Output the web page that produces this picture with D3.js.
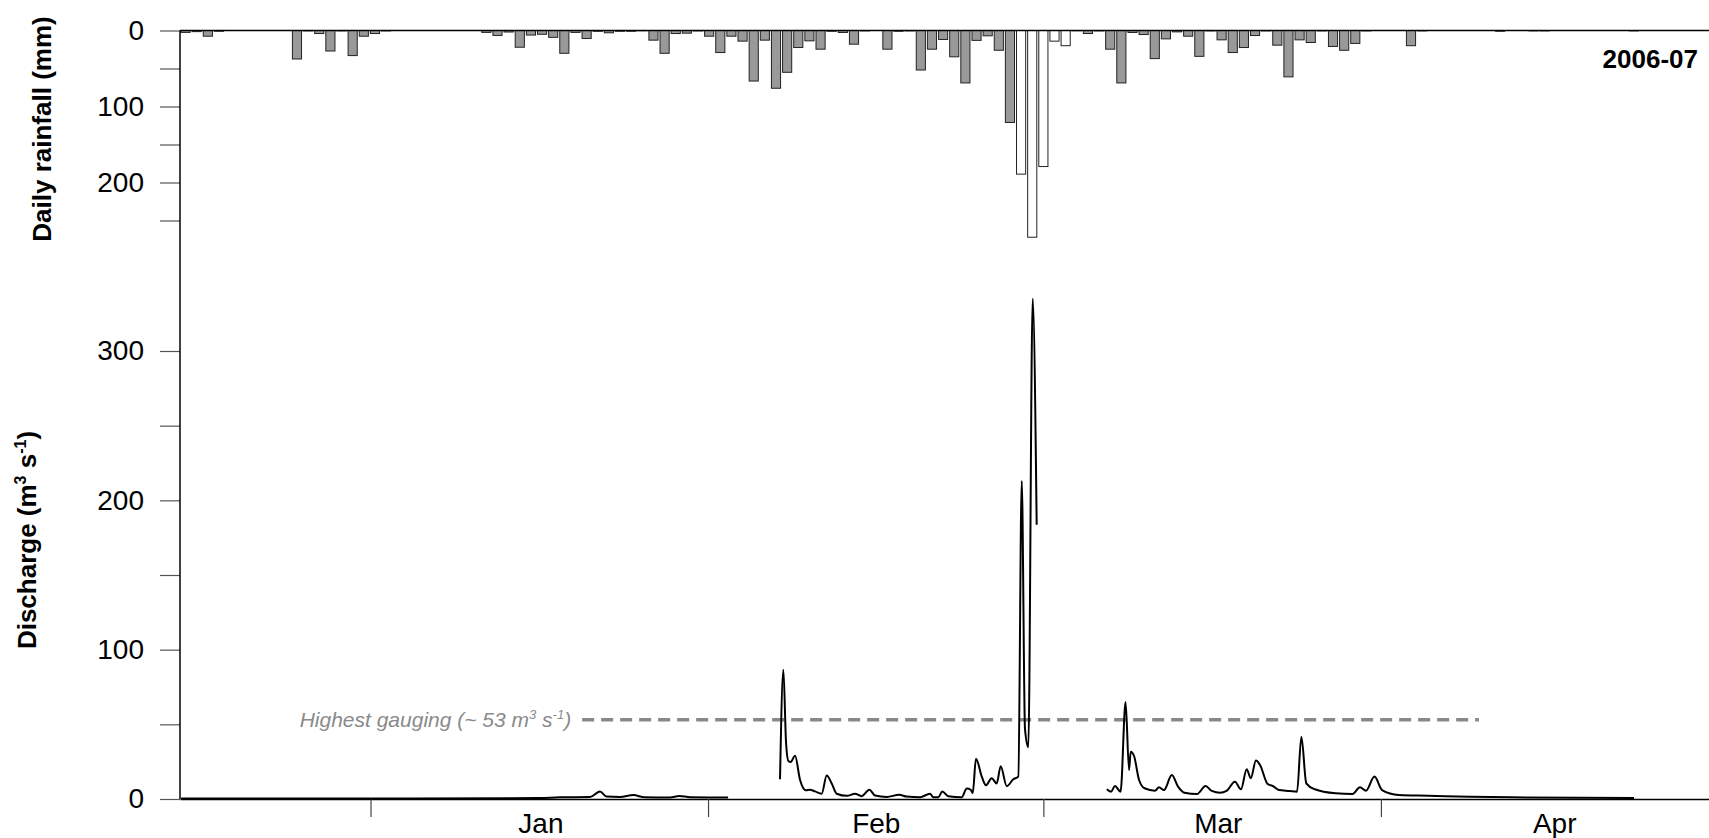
<!DOCTYPE html>
<html lang="en">
<head>
<meta charset="UTF-8">
<title>Rainfall and discharge 2006-07</title>
<script src="https://cdn.jsdelivr.net/npm/d3@7"></script>
<style>
  body { margin: 0; background: #fff; }
  svg { display: block; font-family: "Liberation Sans", Arial, sans-serif; }
</style>
</head>
<body>
<svg></svg>
<script>
// daily rainfall (mm), one value per day from the left edge of the plot
var rainfall = [
  2.5, 1.5, 7.5, 1, 0, 0, 0, 0, 0, 0,
  37.5, 0.5, 4, 27, 0.5, 33, 7.5, 4, 0.5, 0,
  0, 0, 0, 0, 0, 0, 0, 2.5, 6.5, 2,
  22, 6, 5, 9, 30, 2.5, 10.5, 1, 3, 1,
  1, 0.3, 12.7, 30, 4, 3.5, 0.5, 7.5, 29, 7.5,
  14, 66.5, 12.7, 76, 55, 22.4, 13.6, 24.6, 1, 2.6,
  18, 0.5, 0, 24.6, 1, 0.5, 52, 24.6, 11.8, 34.6,
  69, 13, 7, 26, 121, 189, 272, 179, 14, 20,
  0.3, 4, 0.5, 24.6, 69, 2.6, 5.3, 37, 11, 1.8,
  7.5, 34, 0.5, 12.3, 29, 22.4, 6.6, 0.5, 19.3, 61,
  12.3, 15.8, 0.5, 21, 26, 17, 0.5, 0, 0, 0,
  20, 0.5, 0, 0, 0, 0, 0, 0, 1, 0,
  0, 0.5, 0.5, 0, 0, 0, 0, 0, 0, 0,
  0.5, 0, 0, 0, 0, 0, 0, 0
];
// days whose rainfall is drawn as open bars
var openBarDays = [75, 76, 77, 78, 79];

// discharge (m3/s) as [day, value] pairs, three recorded stretches
var dischargeEarly = [
  [0.1, 0.4], [19.7, 0.4], [32.3, 0.6], [34.1, 1.2], [36.8, 1.3], [37.7, 5.0],
  [38.3, 1.6], [39.5, 1.3], [40.7, 2.6], [41.7, 1.2], [44.0, 1.0], [44.8, 2.0],
  [45.8, 1.2], [49.2, 1.0]
];
var dischargeFeb = [
  [53.86, 13.2], [54.16, 86.6], [54.40, 38], [54.61, 25.5], [54.82, 24.8], [55.21, 28.9],
  [55.66, 12.7], [56.19, 5.8], [56.55, 6.2], [57.00, 5.1], [57.60, 3.5], [58.05, 15.7],
  [58.50, 10.4], [58.95, 3.5], [59.85, 2.1], [60.59, 3.5], [61.19, 1.9], [61.88, 6.2],
  [62.39, 2.3], [63.44, 1.4], [64.57, 2.8], [65.23, 1.6], [66.43, 1.2], [67.32, 3.5],
  [67.62, 1.2], [68.07, 1.2], [68.43, 5.1], [68.97, 1.9], [70.17, 1.2], [70.62, 7.0],
  [70.98, 6.2], [71.16, 4.0], [71.45, 27], [71.97, 15], [72.35, 9.2], [72.86, 13.9],
  [73.31, 10.4], [73.67, 22], [74.21, 8.6], [74.80, 13.2], [75.25, 15], [75.56, 213],
  [75.85, 47], [76.15, 34.7], [76.54, 335], [76.90, 183.6]
];
var dischargeMar = [
  [83.19, 6.5], [83.57, 4.9], [83.93, 8.7], [84.43, 4.9], [84.88, 65], [85.19, 19.4],
  [85.34, 31.7], [85.64, 28.8], [86.09, 12.7], [86.58, 7.2], [87.52, 5.6], [87.88, 7.8],
  [88.33, 6.0], [89.03, 16], [89.59, 8.3], [90.17, 4.2], [91.29, 3.3], [92.06, 8.7],
  [92.62, 5.4], [93.36, 4.2], [93.94, 5.4], [94.69, 11.6], [95.24, 6.5], [95.75, 19.9],
  [96.12, 13.9], [96.58, 25.7], [96.95, 22.8], [97.63, 10], [98.09, 8.7], [98.65, 6.0],
  [99.60, 5.4], [100.27, 4.9], [100.66, 41.7], [101.10, 10.5], [101.86, 6.5], [103.74, 3.8],
  [105.25, 3.3], [105.92, 7.8], [106.46, 5.6], [107.22, 15], [107.90, 6.0], [109.40, 2.7],
  [112.03, 2.2], [115.80, 1.5], [119.57, 1.1], [130.52, 0.7]
];

var gaugingValue = 53;
var gaugingSpan = [36.1, 116.6];

var monthTicks = [17.1, 47.4, 77.5, 107.8];
var monthNames = ['Jan', 'Feb', 'Mar', 'Apr'];
var monthMid = [32.4, 62.5, 93.2, 123.4];

var rainTicks = [0, 50, 100, 150, 200, 250];
var flowTicks = [0, 50, 100, 150, 200, 250, 300];

var W = 1709, H = 838;
var svg = d3.select('svg').attr('width', W).attr('height', H);

var x = d3.scaleLinear().domain([0, 137.25]).range([180, 1709]);
var yRain = d3.scaleLinear().domain([0, 250]).range([30.5, 220.5]);
var yFlow = d3.scaleLinear().domain([0, 300]).range([799, 351]);

// rainfall bars hang down from the top line
svg.append('g')
  .selectAll('rect')
  .data(rainfall.map(function (v, i) { return {day: i, v: v}; }).filter(function (d) { return d.v > 0; }))
  .enter().append('rect')
    .attr('x', function (d) { return x(d.day) + 1; })
    .attr('width', function (d) { return x(d.day + 1) - x(d.day) - 2; })
    .attr('y', yRain(0))
    .attr('height', function (d) { return yRain(d.v) - yRain(0); })
    .attr('fill', function (d) { return openBarDays.indexOf(d.day) >= 0 ? '#fff' : '#999'; })
    .attr('stroke', '#222')
    .attr('stroke-width', 1);

// top line of rainfall panel
svg.append('line')
  .attr('x1', x.range()[0]).attr('x2', x.range()[1])
  .attr('y1', yRain(0)).attr('y2', yRain(0))
  .attr('stroke', '#000').attr('stroke-width', 1.5);

// left axes
function styleAxis(g) {
  g.select('.domain').remove();
  g.selectAll('.tick line').attr('stroke', '#555').attr('stroke-width', 1.2);
  g.selectAll('.tick text').attr('font-size', 28).attr('fill', '#000')
    .attr('font-family', '"Liberation Sans", Arial, sans-serif');
}
svg.append('g')
  .attr('transform', 'translate(' + x(0) + ',0)')
  .call(d3.axisLeft(yRain).tickValues(rainTicks).tickSize(20).tickPadding(16)
    .tickFormat(function (d) { return d % 100 === 0 ? d : ''; }))
  .call(styleAxis);
svg.append('g')
  .attr('transform', 'translate(' + x(0) + ',0)')
  .call(d3.axisLeft(yFlow).tickValues(flowTicks).tickSize(20).tickPadding(16)
    .tickFormat(function (d) { return d % 100 === 0 ? d : ''; }))
  .call(styleAxis);

svg.append('line')
  .attr('x1', x(0)).attr('x2', x(0))
  .attr('y1', yRain(0)).attr('y2', yFlow(0))
  .attr('stroke', '#000').attr('stroke-width', 1.5);

// bottom axis with month ticks
var xAxis = svg.append('g')
  .attr('transform', 'translate(0,' + yFlow(0) + ')')
  .call(d3.axisBottom(x).tickValues(monthTicks).tickSize(18).tickSizeOuter(0).tickFormat(''));
xAxis.select('.domain').attr('stroke', '#000').attr('stroke-width', 1.5);
xAxis.selectAll('.tick line').attr('stroke', '#444').attr('stroke-width', 1.2);

svg.append('g')
  .selectAll('text')
  .data(monthNames)
  .enter().append('text')
    .attr('x', function (d, i) { return x(monthMid[i]); })
    .attr('y', 833)
    .attr('text-anchor', 'middle')
    .attr('font-size', 28)
    .text(function (d) { return d; });

// highest gauging reference
svg.append('line')
  .attr('x1', x(gaugingSpan[0])).attr('x2', x(gaugingSpan[1]))
  .attr('y1', yFlow(gaugingValue)).attr('y2', yFlow(gaugingValue))
  .attr('stroke', '#888').attr('stroke-width', 3.5)
  .attr('stroke-dasharray', '12,7');

var gt = svg.append('text')
  .attr('x', x(gaugingSpan[0]) - 11)
  .attr('y', yFlow(gaugingValue) + 7.5)
  .attr('text-anchor', 'end')
  .attr('font-size', 21)
  .attr('font-style', 'italic')
  .attr('fill', '#8a8a8a');
gt.append('tspan').text('Highest gauging (~ 53 m');
gt.append('tspan').attr('font-size', 13).attr('dy', -8).text('3');
gt.append('tspan').attr('dy', 8).text(' s');
gt.append('tspan').attr('font-size', 13).attr('dy', -8).text('-1');
gt.append('tspan').attr('dy', 8).text(')');

// discharge line
var line = d3.line()
  .x(function (d) { return x(d[0]); })
  .y(function (d) { return yFlow(d[1]); })
  .curve(d3.curveMonotoneX);

[dischargeEarly, dischargeFeb, dischargeMar].forEach(function (seg) {
  svg.append('path')
    .datum(seg)
    .attr('fill', 'none')
    .attr('stroke', '#000')
    .attr('stroke-width', 2)
    .attr('stroke-linejoin', 'round')
    .attr('d', line);
});

// titles
svg.append('text')
  .attr('transform', 'translate(51,129) rotate(-90)')
  .attr('text-anchor', 'middle')
  .attr('font-size', 26)
  .attr('font-weight', 'bold')
  .text('Daily rainfall (mm)');

var yt = svg.append('text')
  .attr('transform', 'translate(36,540) rotate(-90)')
  .attr('text-anchor', 'middle')
  .attr('font-size', 26)
  .attr('font-weight', 'bold');
yt.append('tspan').text('Discharge (m');
yt.append('tspan').attr('font-size', 16).attr('dy', -10).text('3');
yt.append('tspan').attr('dy', 10).text(' s');
yt.append('tspan').attr('font-size', 16).attr('dy', -10).text('-1');
yt.append('tspan').attr('dy', 10).text(')');

svg.append('text')
  .attr('x', 1698)
  .attr('y', 68)
  .attr('text-anchor', 'end')
  .attr('font-size', 26)
  .attr('font-weight', 'bold')
  .text('2006-07');
</script>
</body>
</html>
